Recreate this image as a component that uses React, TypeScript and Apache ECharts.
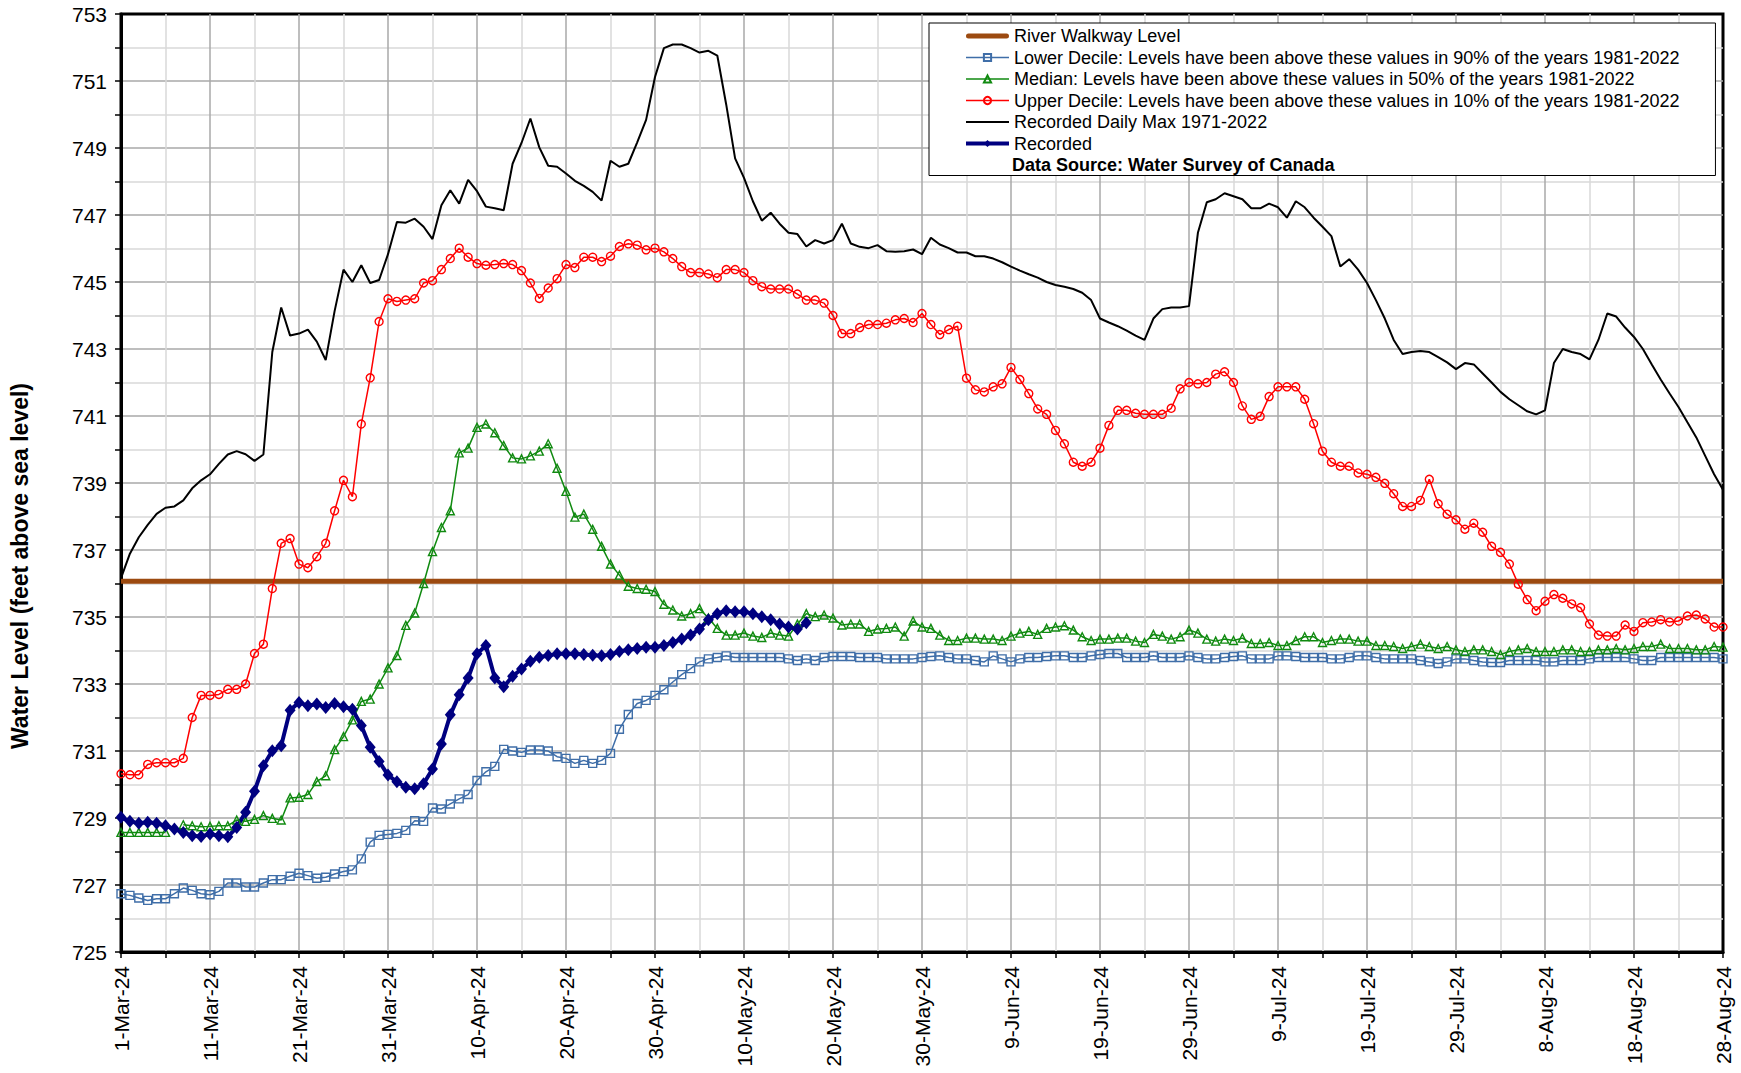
import React, { useEffect, useRef } from 'react';
import * as echarts from 'echarts';

// x axis: day index 0 = 1-Mar-24 ... 180 = 28-Aug-24
const xTickLabels = [
  '1-Mar-24', '11-Mar-24', '21-Mar-24', '31-Mar-24', '10-Apr-24', '20-Apr-24', '30-Apr-24',
  '10-May-24', '20-May-24', '30-May-24', '9-Jun-24', '19-Jun-24', '29-Jun-24', '9-Jul-24',
  '19-Jul-24', '29-Jul-24', '8-Aug-24', '18-Aug-24', '28-Aug-24',
];
const yTickLabels = [725, 727, 729, 731, 733, 735, 737, 739, 741, 743, 745, 747, 749, 751, 753];

const walkwayLevel = 736.07;

const lowerDecile = [
  726.74, 726.69, 726.61, 726.54, 726.59, 726.59, 726.74, 726.91, 726.84, 726.74,
  726.71, 726.81, 727.06, 727.06, 726.94, 726.94, 727.06, 727.16, 727.16, 727.26,
  727.35, 727.28, 727.2, 727.23, 727.33, 727.4, 727.45, 727.78, 728.28, 728.48,
  728.51, 728.54, 728.63, 728.92, 728.9, 729.3, 729.27, 729.42, 729.57, 729.7,
  730.12, 730.38, 730.54, 731.05, 731.0, 730.96, 731.03, 731.03, 731.0, 730.83,
  730.78, 730.63, 730.72, 730.63, 730.72, 730.93, 731.65, 732.09, 732.42, 732.51,
  732.66, 732.83, 733.06, 733.28, 733.46, 733.66, 733.75, 733.79, 733.84, 733.79,
  733.79, 733.79, 733.79, 733.79, 733.79, 733.75, 733.7, 733.75, 733.7, 733.79,
  733.82, 733.82, 733.82, 733.79, 733.79, 733.79, 733.75, 733.75, 733.75, 733.75,
  733.79, 733.82, 733.84, 733.79, 733.75, 733.75, 733.7, 733.66, 733.84, 733.75,
  733.66, 733.75, 733.79, 733.79, 733.82, 733.84, 733.84, 733.79, 733.79, 733.84,
  733.88, 733.91, 733.91, 733.79, 733.79, 733.79, 733.84, 733.79, 733.79, 733.79,
  733.84, 733.79, 733.75, 733.75, 733.79, 733.82, 733.84, 733.75, 733.75, 733.75,
  733.84, 733.84, 733.82, 733.79, 733.79, 733.79, 733.75, 733.75, 733.79, 733.84,
  733.84, 733.79, 733.75, 733.75, 733.75, 733.75, 733.7, 733.66, 733.61, 733.66,
  733.75, 733.75, 733.7, 733.66, 733.64, 733.64, 733.7, 733.7, 733.7, 733.7,
  733.66, 733.66, 733.7, 733.7, 733.7, 733.75, 733.79, 733.79, 733.79, 733.79,
  733.75, 733.7, 733.7, 733.79, 733.79, 733.79, 733.79, 733.79, 733.79, 733.79, 733.75,
];

// null = no value plotted that day (gap in the line)
const median = [
  728.57, 728.57, 728.57, 728.57, 728.57, 728.57, null, 728.8, 728.77, 728.74,
  728.75, 728.77, 728.77, 728.94, 728.9, 728.96, 729.07, 728.99, 728.94, 729.6,
  729.62, 729.7, 730.09, 730.26, 731.04, 731.43, 731.93, 732.48, 732.55, 733.0,
  733.48, 733.85, 734.75, 735.12, 736.0, 736.95, 737.67, 738.17, 739.9, 740.04,
  740.66, 740.76, 740.5, 740.12, 739.75, 739.72, 739.81, 739.95, 740.17, 739.44,
  738.75, 737.98, 738.07, 737.62, 737.11, 736.58, 736.25, 735.92, 735.85, 735.83,
  735.76, 735.38, 735.21, 735.03, 735.1, 735.25, 734.97, 734.66, 734.46, 734.46,
  734.52, 734.43, 734.39, 734.52, 734.46, 734.43, 734.79, 735.1, 735.01, 735.06,
  734.97, 734.76, 734.79, 734.79, 734.57, 734.64, 734.66, 734.7, 734.43, 734.88,
  734.7, 734.66, 734.46, 734.3, 734.3, 734.37, 734.37, 734.34, 734.34, 734.3,
  734.43, 734.52, 734.57, 734.48, 734.66, 734.7, 734.74, 734.61, 734.41, 734.3,
  734.34, 734.34, 734.37, 734.37, 734.28, 734.24, 734.48, 734.43, 734.34, 734.41,
  734.61, 734.52, 734.34, 734.28, 734.34, 734.3, 734.37, 734.21, 734.21, 734.24,
  734.15, 734.15, 734.3, 734.41, 734.41, 734.24, 734.3, 734.34, 734.34, 734.28,
  734.28, 734.15, 734.15, 734.12, 734.06, 734.12, 734.19, 734.12, 734.06, 734.12,
  734.02, 733.97, 734.02, 734.02, 733.97, 733.88, 733.97, 734.02, 734.06, 733.97,
  733.97, 733.97, 734.02, 734.02, 733.97, 733.97, 734.02, 734.02, 734.06, 734.02,
  734.06, 734.12, 734.12, 734.19, 734.06, 734.06, 734.06, 734.02, 734.02, 734.12, 734.1,
];

const upperDecile = [
  730.32, 730.29, 730.29, 730.6, 730.65, 730.65, 730.65, 730.78, 732.0, 732.66,
  732.66, 732.69, 732.84, 732.84, 733.0, 733.91, 734.19, 735.85, 737.2, 737.34,
  736.58, 736.47, 736.8, 737.2, 738.17, 739.08, 738.59, 740.76, 742.14, 743.82,
  744.5, 744.42, 744.46, 744.5, 744.97, 745.04, 745.37, 745.7, 746.01, 745.74,
  745.55, 745.5, 745.52, 745.55, 745.52, 745.34, 744.97, 744.51, 744.82, 745.1,
  745.52, 745.43, 745.74, 745.74, 745.61, 745.77, 746.06, 746.14, 746.1, 745.96,
  746.01, 745.9, 745.7, 745.46, 745.28, 745.28, 745.24, 745.13, 745.37, 745.37,
  745.28, 745.04, 744.86, 744.79, 744.79, 744.79, 744.64, 744.46, 744.46, 744.37,
  744.0, 743.46, 743.46, 743.64, 743.73, 743.73, 743.77, 743.87, 743.91, 743.79,
  744.06, 743.73, 743.43, 743.58, 743.68, 742.13, 741.78, 741.72, 741.87, 741.96,
  742.45, 742.09, 741.67, 741.21, 741.05, 740.57, 740.17, 739.62, 739.5, 739.62,
  740.04, 740.72, 741.17, 741.17, 741.08, 741.05, 741.05, 741.05, 741.23, 741.81,
  742.0, 741.96, 742.0, 742.25, 742.32, 742.0, 741.3, 740.9, 740.99, 741.58,
  741.87, 741.87, 741.87, 741.5, 740.77, 739.95, 739.62, 739.5, 739.5, 739.3,
  739.26, 739.17, 738.99, 738.68, 738.3, 738.3, 738.48, 739.11, 738.38, 738.07,
  737.9, 737.62, 737.8, 737.53, 737.11, 736.93, 736.58, 735.98, 735.52, 735.19,
  735.47, 735.67, 735.56, 735.39, 735.28, 734.79, 734.46, 734.43, 734.43, 734.76,
  734.57, 734.83, 734.85, 734.92, 734.85, 734.88, 735.03, 735.06, 734.94, 734.7, 734.7,
];

const dailyMax = [
  736.16, 736.89, 737.38, 737.75, 738.08, 738.26, 738.3, 738.48, 738.84, 739.08,
  739.26, 739.57, 739.85, 739.95, 739.86, 739.66, 739.85, 742.91, 744.24, 743.4,
  743.46, 743.58, 743.22, 742.67, 744.13, 745.37, 745.0, 745.5, 744.97, 745.06,
  745.83, 746.79, 746.77, 746.89, 746.65, 746.28, 747.29, 747.74, 747.34, 748.05,
  747.71, 747.25, 747.2, 747.14, 748.53, 749.15, 749.88, 749.02, 748.47, 748.44,
  748.24, 748.02, 747.87, 747.69, 747.43, 748.62, 748.44, 748.53, 749.17, 749.84,
  751.12, 751.98, 752.09, 752.09, 751.98, 751.85, 751.9, 751.76, 750.3, 748.69,
  748.11, 747.41, 746.83, 747.07, 746.74, 746.47, 746.43, 746.06, 746.25, 746.15,
  746.25, 746.74, 746.15, 746.05, 746.01, 746.1, 745.92, 745.9, 745.92, 745.97,
  745.83, 746.32, 746.12, 746.01, 745.88, 745.88, 745.77, 745.77, 745.7, 745.59,
  745.46, 745.34, 745.23, 745.13, 745.0, 744.91, 744.86, 744.79, 744.68, 744.46,
  743.91, 743.79, 743.68, 743.55, 743.4, 743.27, 743.91, 744.19, 744.24, 744.24,
  744.28, 746.47, 747.38, 747.47, 747.65, 747.56, 747.47, 747.2, 747.2, 747.34,
  747.23, 746.92, 747.41, 747.23, 746.92, 746.65, 746.37, 745.46, 745.68, 745.37,
  744.97, 744.46, 743.91, 743.27, 742.85, 742.91, 742.94, 742.91, 742.76, 742.6,
  742.4, 742.58, 742.54, 742.27, 742.0, 741.72, 741.5, 741.32, 741.14, 741.05,
  741.17, 742.58, 743.0, 742.91, 742.85, 742.69, 743.27, 744.06, 743.97, 743.64,
  743.36, 743.0, 742.54, 742.09, 741.67, 741.27, 740.81, 740.36, 739.81, 739.26, 738.8,
];

const recorded = [
  729.02, 728.9, 728.84, 728.87, 728.84, 728.77, 728.67, 728.57, 728.47, 728.45,
  728.52, 728.47, 728.44, 728.72, 729.17, 729.8, 730.56, 731.01, 731.16, 732.22,
  732.45, 732.35, 732.4, 732.3, 732.42, 732.32, 732.25, 731.76, 731.11, 730.69,
  730.28, 730.08, 729.92, 729.87, 730.02, 730.46, 731.21, 732.08, 732.68, 733.18,
  733.9, 734.15, 733.18, 732.92, 733.23, 733.45, 733.68, 733.8, 733.85, 733.9,
  733.9, 733.9, 733.88, 733.86, 733.84, 733.88, 733.97, 734.02, 734.06, 734.1,
  734.1, 734.15, 734.24, 734.34, 734.46, 734.64, 734.92, 735.1, 735.19, 735.16,
  735.16, 735.1, 735.01, 734.92, 734.79, 734.7, 734.64, 734.83,
];

const seriesNames = [
  'River Walkway Level',
  'Lower Decile: Levels have been above these values in 90% of the years 1981-2022',
  'Median: Levels have been above these values in 50% of the years 1981-2022',
  'Upper Decile: Levels have been above these values in 10% of the years 1981-2022',
  'Recorded Daily Max 1971-2022',
  'Recorded',
];

const FONT = 'Arial, "Liberation Sans", sans-serif';
const toPoints = (arr: (number | null)[]) => arr.map((v, i) => [i, v === null ? '-' : v]);
const lastDay = dailyMax.length - 1;

export default function App() {
  const ref = useRef<HTMLDivElement>(null);
  useEffect(() => {
    if (!ref.current) return;
    const chart = echarts.init(ref.current, undefined, { renderer: 'svg' });
    const hollow = (color: string) => ({
      color: 'rgba(255,255,255,0)',
      borderColor: color,
      borderWidth: 1.4,
    });
    chart.setOption({
      animation: false,
      backgroundColor: '#ffffff',
      textStyle: { fontFamily: FONT },
      grid: {
        left: 121, right: 18, top: 14, bottom: 121,
        show: true, borderColor: '#000', borderWidth: 3, backgroundColor: 'rgba(0,0,0,0)',
      },
      xAxis: {
        type: 'value', min: 0, max: lastDay, interval: 5,
        axisLine: { show: true, lineStyle: { color: '#000', width: 3 } },
        axisTick: { show: true, length: 6, lineStyle: { color: '#000', width: 1.5 } },
        axisLabel: {
          rotate: 90, margin: 14, fontSize: 21, color: '#000', fontFamily: FONT,
          formatter: (v: number) => (v % 10 === 0 ? xTickLabels[v / 10] : ''),
        },
        splitLine: {
          show: true, showMinLine: false, showMaxLine: false,
          lineStyle: { color: ['#d9d9d9', '#a9a9a9'], width: 1.5 },
        },
      },
      yAxis: {
        type: 'value', min: 725, max: 753, interval: 1,
        axisLine: { show: true, lineStyle: { color: '#000', width: 3 } },
        axisTick: { show: true, length: 6, lineStyle: { color: '#000', width: 1.5 } },
        axisLabel: {
          margin: 14, fontSize: 21, color: '#000', fontFamily: FONT,
          formatter: (v: number) => (yTickLabels.includes(Math.round(v)) ? String(Math.round(v)) : ''),
        },
        splitLine: {
          show: true, showMinLine: false, showMaxLine: false,
          lineStyle: { color: ['#d9d9d9', '#a9a9a9'], width: 1.5 },
        },
      },
      legend: {
        orient: 'vertical', left: 929, top: 23,
        padding: [3, 36, 22, 35],
        itemWidth: 43, itemHeight: 9, itemGap: 1.5,
        borderColor: '#000', borderWidth: 1, backgroundColor: '#ffffff',
        selectedMode: false,
        textStyle: { fontFamily: FONT, fontSize: 18, color: '#000', lineHeight: 20 },
        data: [
          { name: seriesNames[0], icon: 'path://M2.5,0H40.5A2.5,2.5,0,0,1,40.5,5H2.5A2.5,2.5,0,0,1,2.5,0Z' },
          { name: seriesNames[1], lineStyle: { width: 1.5 } },
          { name: seriesNames[2], lineStyle: { width: 1.5 } },
          { name: seriesNames[3], lineStyle: { width: 1.5 } },
          { name: seriesNames[4], icon: 'path://M0,0H43V2H0Z' },
          { name: seriesNames[5], lineStyle: { width: 4 } },
        ],
      },
      graphic: [
        {
          type: 'text', x: 1012, y: 165, z: 100,
          style: {
            text: 'Data Source: Water Survey of Canada',
            font: `bold 18px ${FONT}`, fill: '#000', verticalAlign: 'middle',
          },
        },
        {
          type: 'text', x: 20, y: 566, rotation: Math.PI / 2, z: 100,
          style: {
            text: 'Water Level (feet above sea level)',
            font: `bold 23px ${FONT}`, fill: '#000', align: 'center', verticalAlign: 'middle',
          },
        },
      ],
      series: [
        {
          name: seriesNames[0], type: 'line', symbol: 'none',
          data: [[0, walkwayLevel], [lastDay, walkwayLevel]],
          lineStyle: { color: '#9c4a10', width: 5 }, itemStyle: { color: '#9c4a10' },
        },
        {
          name: seriesNames[1], type: 'line', symbol: 'rect', symbolSize: 8,
          data: toPoints(lowerDecile),
          lineStyle: { color: '#3f6ea8', width: 1.5 }, itemStyle: hollow('#3f6ea8'),
        },
        {
          name: seriesNames[2], type: 'line', symbol: 'triangle', symbolSize: 8,
          data: toPoints(median), connectNulls: false,
          lineStyle: { color: '#108a10', width: 1.5 }, itemStyle: hollow('#108a10'),
        },
        {
          name: seriesNames[3], type: 'line', symbol: 'circle', symbolSize: 8,
          data: toPoints(upperDecile),
          lineStyle: { color: '#ff0000', width: 1.5 }, itemStyle: hollow('#ff0000'),
        },
        {
          name: seriesNames[4], type: 'line', symbol: 'none',
          data: toPoints(dailyMax),
          lineStyle: { color: '#000', width: 2 }, itemStyle: { color: '#000' },
        },
        {
          name: seriesNames[5], type: 'line', symbol: 'diamond', symbolSize: [11, 13],
          data: toPoints(recorded),
          lineStyle: { color: '#000080', width: 4 }, itemStyle: { color: '#000080' },
        },
      ],
    });
    return () => chart.dispose();
  }, []);
  return (
    <div
      ref={ref}
      style={{ position: 'fixed', left: 0, top: 0, width: 1741, height: 1073, background: '#fff' }}
    />
  );
}
